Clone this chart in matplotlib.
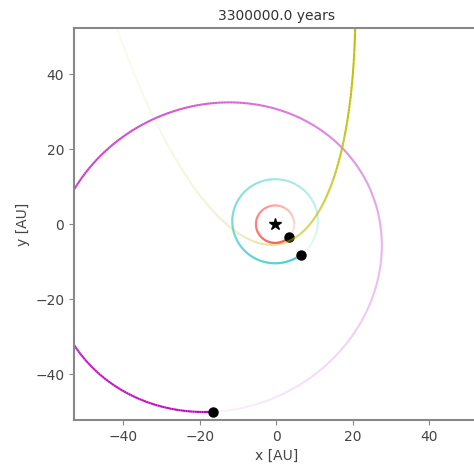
import numpy as np
import matplotlib
matplotlib.use('Agg')
import matplotlib.pyplot as plt
from matplotlib.collections import LineCollection
from matplotlib.colors import to_rgba

# the star wobbles a little around the origin
star_x = -0.3
star_y = 0.0

# orbits around the star: r = p / (1 + e cos(theta - w))
colors = ['r', 'c', 'm', 'y']
semi_latus = [5.0, 11.15, 36.95, 10.6]        # p [AU]
eccentricity = [0.0, 0.07, 0.40, 0.955]
periapsis = [0.0, -90.0, 30.0, -80.0]         # w [deg]
trail_from = [-403.0, -410.0, -108.0, -235.0]  # oldest point of the trail [deg]
trail_to = [-43.0, -50.0, 252.0, 75.0]         # current position [deg]

elapsed = 3300000.0  # years


def orbit_points(p, e, w, t0, t1, n=600):
    theta = np.radians(np.linspace(t0, t1, n))
    r = p / (1 + e * np.cos(theta - np.radians(w)))
    return star_x + r * np.cos(theta), star_y + r * np.sin(theta)


def fading_trail(ax, x, y, color, lw=1.5):
    pts = np.column_stack([x, y]).reshape(-1, 1, 2)
    segs = np.concatenate([pts[:-1], pts[1:]], axis=1)
    # older parts of the trail fade out
    alpha = np.linspace(0.05, 1, len(segs))
    rgba = [to_rgba(color, a) for a in alpha]
    ax.add_collection(LineCollection(segs, colors=rgba, linewidths=lw))


if __name__ == '__main__':
    fig = plt.figure(figsize=(4.74, 4.70), dpi=100)
    ax = fig.add_axes([74 / 474, 50 / 470, 404.5 / 474, 392 / 470])

    for i in range(len(colors)):
        x, y = orbit_points(semi_latus[i], eccentricity[i], periapsis[i], trail_from[i], trail_to[i])
        fading_trail(ax, x, y, colors[i])
        ax.plot(x[-1], y[-1], 'o', color='k', markersize=6.5)

    ax.plot(star_x, star_y, '*', color='k', markersize=9)

    ax.set_xlim(-52.8, 52.8)
    ax.set_ylim(-52.2, 52.3)
    ax.set_xticks([-40, -20, 0, 20, 40])
    ax.set_yticks([-40, -20, 0, 20, 40])
    ax.set_xlabel('x [AU]', color='#444444')
    ax.set_ylabel('y [AU]', color='#444444')
    ax.set_title('%.1f years' % elapsed, color='#333333', fontsize=10)
    for s in ax.spines.values():
        s.set_color('#888888')
        s.set_linewidth(1.5)
    ax.tick_params(colors='#888888', labelcolor='#444444', labelsize=10)

    fig.savefig('out.png', dpi=100)
